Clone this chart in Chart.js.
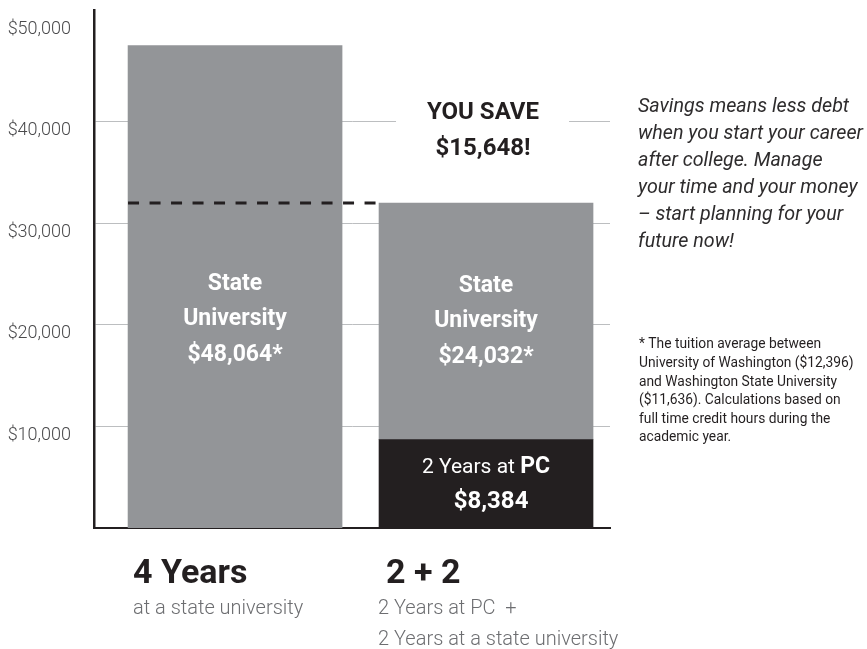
<!DOCTYPE html>
<html>
<head>
<meta charset="utf-8">
<script src="https://cdn.jsdelivr.net/npm/chart.js@4.4.1/dist/chart.umd.min.js"></script>
<style>
  html, body { margin: 0; padding: 0; background: #ffffff; }
  #wrap { width: 867px; height: 649px; position: relative; }
  canvas { display: block; }
</style>
</head>
<body>
<div id="wrap"><canvas id="c" width="867" height="649"></canvas></div>
<script>
// ---- data ----
const categories = ['4 Years', '2 + 2'];
const categorySubtitles = [['at a state university'], ['2 Years at PC  +', '2 Years at a state university']];
const pcValues = [null, 8700];
const stateValues = [47500, 23300];
const yTickValues = [10000, 20000, 30000, 40000, 50000];
const yMax = 51000;
const stateLabels = [['State', 'University', '$48,064*'], ['State', 'University', '$24,032*']];
const pcLabelParts = ['2 Years at ', 'PC'];
const pcValueLabel = '$8,384';
const savingsLabel = ['YOU SAVE', '$15,648!'];
const sideText = [
  'Savings means less debt',
  'when you start your career',
  'after college. Manage',
  'your time and your money',
  '\u2013 start planning for your',
  'future now!'
];
const footnote = [
  '* The tuition average between',
  'University of Washington ($12,396)',
  'and Washington State University',
  '($11,636). Calculations based on',
  'full time credit hours during the',
  'academic year.'
];

const DARK = '#231f20';
const GRAY = '#939598';

const annotations = {
  id: 'annotations',
  afterDatasetsDraw(chart) {
    const ctx = chart.ctx;
    const stMeta = chart.getDatasetMeta(1).data;
    const left = stMeta[0], right = stMeta[1];
    const half = right.width / 2;
    ctx.save();
    // white box behind savings text
    ctx.fillStyle = '#ffffff';
    ctx.fillRect(right.x - 90, right.y - 112, 173, 72);
    // dashed comparison line
    ctx.strokeStyle = DARK;
    ctx.lineWidth = 3;
    ctx.setLineDash([11, 10.5]);
    ctx.beginPath();
    ctx.moveTo(left.x - left.width / 2, right.y);
    ctx.lineTo(right.x - half, right.y);
    ctx.stroke();
    ctx.restore();
  },
  afterDraw(chart) {
    const ctx = chart.ctx;
    const pcMeta = chart.getDatasetMeta(0).data;
    const stMeta = chart.getDatasetMeta(1).data;
    const bottom = chart.scales.y.getPixelForValue(0);
    const left = stMeta[0], right = stMeta[1], pc = pcMeta[1];
    ctx.save();
    ctx.textBaseline = 'alphabetic';

    // savings
    ctx.fillStyle = DARK;
    ctx.textAlign = 'center';
    ctx.font = 'bold 24px Roboto';
    ctx.fillText(savingsLabel[0], right.x - 3, right.y - 84);
    ctx.fillText(savingsLabel[1], right.x - 3, right.y - 48);

    // bar labels
    ctx.fillStyle = '#ffffff';
    ctx.font = 'bold 23px Roboto';
    const offsL = [238, 203, 167];
    const offsR = [236, 201, 165];
    stateLabels[0].forEach((t, i) => ctx.fillText(t, left.x, bottom - offsL[i]));
    stateLabels[1].forEach((t, i) => ctx.fillText(t, right.x, bottom - offsR[i]));

    // PC label (mixed weight)
    ctx.font = '400 21px Roboto';
    const w1 = ctx.measureText(pcLabelParts[0]).width;
    ctx.font = 'bold 23px Roboto';
    const w2 = ctx.measureText(pcLabelParts[1]).width;
    const sx = pc.x - (w1 + w2) / 2;
    ctx.textAlign = 'left';
    ctx.font = '400 21px Roboto';
    ctx.fillText(pcLabelParts[0], sx, bottom - 55);
    ctx.font = 'bold 23px Roboto';
    ctx.fillText(pcLabelParts[1], sx + w1, bottom - 55);
    ctx.textAlign = 'center';
    ctx.font = 'bold 24px Roboto';
    ctx.fillText(pcValueLabel, pc.x + 5, bottom - 20);

    // category labels under bars
    ctx.textAlign = 'left';
    const bars = [left, right];
    const headDx = [5, 7];
    const subDx = [5, -1];
    bars.forEach((b, i) => {
      const bl = b.x - b.width / 2;
      ctx.fillStyle = DARK;
      ctx.font = 'bold 34px Roboto';
      ctx.fillText(categories[i], bl + headDx[i], bottom + 55);
      ctx.fillStyle = '#6d6e71';
      ctx.font = '300 20px Roboto';
      categorySubtitles[i].forEach((t, j) => ctx.fillText(t, bl + subDx[i], bottom + 86 + j * 31));
    });

    // side text
    const area = chart.chartArea;
    ctx.fillStyle = '#2e2c2d';
    ctx.font = 'italic 400 19.7px Roboto';
    sideText.forEach((t, i) => ctx.fillText(t, area.right + 28, 111.5 + i * 27));
    ctx.fillStyle = DARK;
    ctx.font = '400 13.8px Roboto';
    footnote.forEach((t, i) => ctx.fillText(t, area.right + 29, 348.3 + i * 18.6));
    ctx.restore();
  }
};

new Chart(document.getElementById('c').getContext('2d'), {
  type: 'bar',
  data: {
    datasets: [
      {
        label: '2 Years at PC',
        data: categories.map((c, i) => ({ x: i, y: pcValues[i] })),
        backgroundColor: DARK,
        barThickness: 214
      },
      {
        label: 'State University',
        data: categories.map((c, i) => ({ x: i, y: stateValues[i] })),
        backgroundColor: GRAY,
        barThickness: 214
      }
    ]
  },
  options: {
    responsive: false,
    animation: false,
    layout: { padding: { left: 0, top: 10, right: 257, bottom: 121 } },
    plugins: { legend: { display: false }, tooltip: { enabled: false } },
    scales: {
      x: {
        type: 'linear',
        stacked: true,
        offset: false,
        min: -0.562,
        max: 1.494,
        z: 1,
        grid: { display: false, drawTicks: false },
        ticks: { display: false },
        border: { display: true, color: DARK, width: 2 },
        afterFit(s) { s.height = 0; s.paddingLeft = 0; s.paddingRight = 0; }
      },
      y: {
        stacked: true,
        min: 0,
        max: yMax,
        afterBuildTicks(s) { s.ticks = yTickValues.map(v => ({ value: v })); },
        ticks: {
          padding: 23,
          labelOffset: 9,
          color: '#4a4a4c',
          font: { family: 'Roboto', size: 18, weight: '300', lineHeight: 1 },
          callback: (v) => '$' + Number(v).toLocaleString('en-US')
        },
        grid: {
          color: (c) => (c.tick && c.tick.value >= 50000) ? 'rgba(0,0,0,0)' : '#bcbec0',
          lineWidth: 1,
          drawTicks: false
        },
        border: { display: true, color: DARK, width: 2.5 },
        afterFit(s) { s.width = 94; s.paddingTop = 0; s.paddingBottom = 0; }
      }
    }
  },
  plugins: [annotations]
});
</script>
</body>
</html>
